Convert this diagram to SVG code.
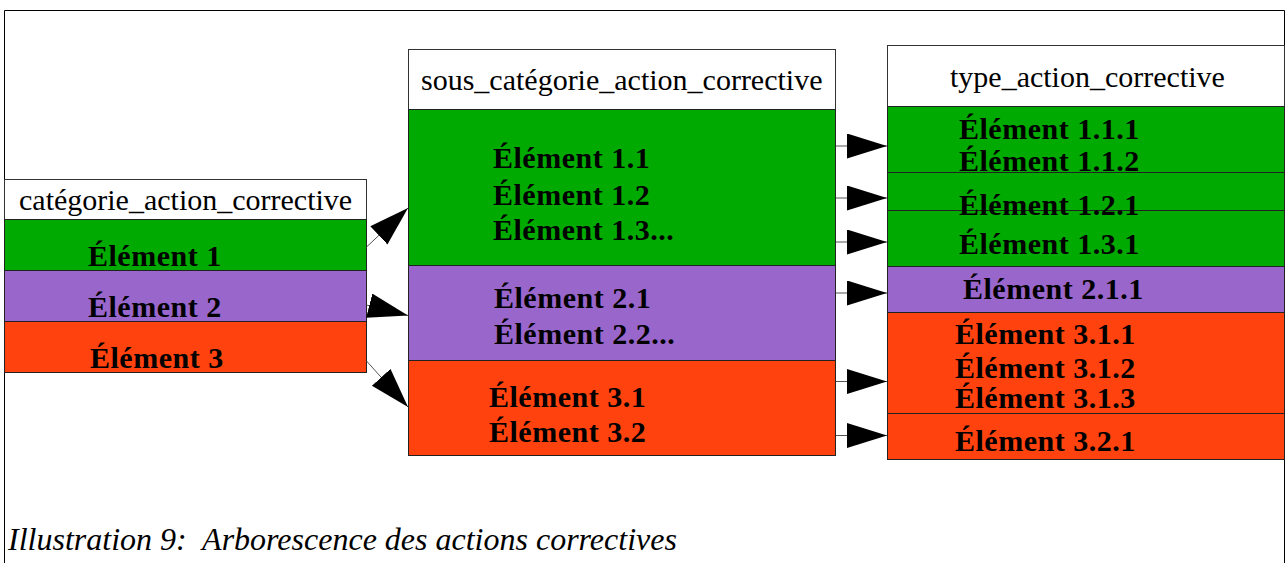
<svg xmlns="http://www.w3.org/2000/svg" width="1286" height="563" viewBox="0 0 1286 563">
<style>
.hd{fill:#ffffff;stroke:#333333;stroke-width:1}
.g{fill:#00aa00;stroke:#222222;stroke-width:1}
.p{fill:#9966cc;stroke:#222222;stroke-width:1}
.o{fill:#ff420e;stroke:#222222;stroke-width:1}
.ht{font-family:"Liberation Serif","Times New Roman",serif;font-size:30px;fill:#000}
.bt{font-family:"Liberation Serif","Times New Roman",serif;font-size:30px;font-weight:bold;letter-spacing:0.5px;fill:#000}
.cap{font-family:"Liberation Serif","Times New Roman",serif;font-size:32px;font-style:italic;fill:#000}
.cn{stroke:#555555;stroke-width:1;fill:none;marker-end:url(#ah)}
</style>
<defs>
<marker id="ah" markerUnits="userSpaceOnUse" markerWidth="40" markerHeight="26" refX="40" refY="12.5" orient="auto">
<path d="M0,0 L40,12.5 L0,25 z" fill="#000"/>
</marker>
</defs>
<rect x="0" y="0" width="1286" height="563" fill="#ffffff"/>
<path d="M4.5,570 V10.5 H1284.5 V570" fill="none" stroke="#000" stroke-width="1"/>

<g id="categorie">
<rect class="hd" x="4.5" y="179.5" width="362" height="40"/>
<text class="ht" x="19" y="210">catégorie_action_corrective</text>
<rect class="g" x="4.5" y="219.5" width="362" height="51"/>
<text class="bt" x="88" y="266">Élément 1</text>
<rect class="p" x="4.5" y="270.5" width="362" height="51"/>
<text class="bt" x="88" y="317">Élément 2</text>
<rect class="o" x="4.5" y="321.5" width="362" height="51"/>
<text class="bt" x="90" y="368">Élément 3</text>
</g>

<g id="sous_categorie">
<rect class="hd" x="408.5" y="49.5" width="427" height="60"/>
<text class="ht" x="421" y="90">sous_catégorie_action_corrective</text>
<rect class="g" x="408.5" y="109.5" width="427" height="156"/>
<text class="bt" x="493" y="168">Élément 1.1</text>
<text class="bt" x="493" y="205">Élément 1.2</text>
<text class="bt" x="493" y="240">Élément 1.3...</text>
<rect class="p" x="408.5" y="265.5" width="427" height="95"/>
<text class="bt" x="494" y="308">Élément 2.1</text>
<text class="bt" x="494" y="344">Élément 2.2...</text>
<rect class="o" x="408.5" y="360.5" width="427" height="95"/>
<text class="bt" x="489" y="407">Élément 3.1</text>
<text class="bt" x="489" y="442">Élément 3.2</text>
</g>

<g id="type">
<rect class="hd" x="887.5" y="45.5" width="397" height="61"/>
<text class="ht" x="950" y="87">type_action_corrective</text>
<rect class="g" x="887.5" y="106.5" width="397" height="66"/>
<rect class="g" x="887.5" y="172.5" width="397" height="38"/>
<rect class="g" x="887.5" y="210.5" width="397" height="56"/>
<rect class="p" x="887.5" y="266.5" width="397" height="46"/>
<rect class="o" x="887.5" y="312.5" width="397" height="101"/>
<rect class="o" x="887.5" y="413.5" width="397" height="46"/>
<text class="bt" x="959" y="139">Élément 1.1.1</text>
<text class="bt" x="959" y="171">Élément 1.1.2</text>
<text class="bt" x="959" y="215">Élément 1.2.1</text>
<text class="bt" x="959" y="254">Élément 1.3.1</text>
<text class="bt" x="963" y="299">Élément 2.1.1</text>
<text class="bt" x="955" y="344">Élément 3.1.1</text>
<text class="bt" x="955" y="378">Élément 3.1.2</text>
<text class="bt" x="955" y="408">Élément 3.1.3</text>
<text class="bt" x="955" y="451">Élément 3.2.1</text>
</g>

<g id="connectors">
<line class="cn" x1="366.5" y1="247" x2="408" y2="208"/>
<line class="cn" x1="366.5" y1="305" x2="408" y2="315.5"/>
<line class="cn" x1="366.5" y1="361" x2="408" y2="407"/>
<line class="cn" x1="836" y1="146" x2="887" y2="146"/>
<line class="cn" x1="836" y1="198" x2="887" y2="198"/>
<line class="cn" x1="836" y1="242" x2="887" y2="242"/>
<line class="cn" x1="836" y1="293" x2="887" y2="293"/>
<line class="cn" x1="836" y1="381.5" x2="887" y2="381.5"/>
<line class="cn" x1="836" y1="435.5" x2="887" y2="435.5"/>
</g>

<text class="cap" x="8" y="550" xml:space="preserve">Illustration 9:  Arborescence des actions correctives</text>
</svg>
